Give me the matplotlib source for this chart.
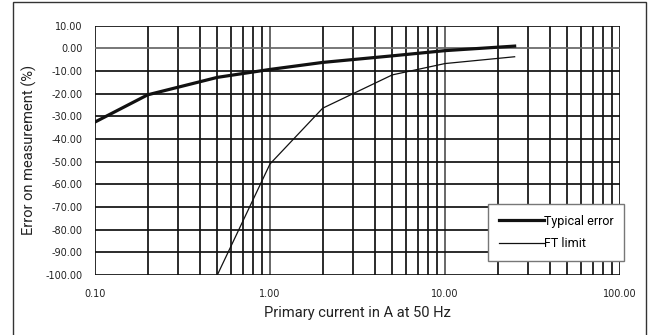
import matplotlib
matplotlib.use('Agg')
import matplotlib.pyplot as plt
from matplotlib.patches import Rectangle
from matplotlib.ticker import FixedLocator, NullLocator, FixedFormatter

# ── Data ──────────────────────────────────────────────────────────────────────
typ_current = [0.1, 0.2, 0.5, 1.0, 2.0, 5.0, 10.0, 25.0]
typ_error = [-32.5, -20.5, -12.8, -9.3, -6.2, -3.3, -1.0, 1.0]

ft_current = [0.5, 1.0, 2.0, 5.0, 10.0, 25.0]
ft_limit = [-100.0, -51.0, -26.4, -11.7, -6.7, -3.7]

x_ticks = [0.1, 1, 10, 100]
x_ticklabels = ['0.10', '1.00', '10.00', '100.00']
y_ticks = list(range(-100, 11, 10))

LABEL_FONT = ['Roboto', 'DejaVu Sans']

fig = plt.figure(figsize=(6.56, 3.35), dpi=100)
fig.patch.set_facecolor('white')
ax = fig.add_axes([95 / 656, 1 - 275 / 335, 525 / 656, 249.3 / 335])

# outer frame round the whole chart
fig.add_artist(Rectangle((13 / 656, -0.05), 633 / 656, 1 - 2 / 335 + 0.05,
                         transform=fig.transFigure, fill=False,
                         edgecolor='#333333', linewidth=1.0))

# grid: every decade subdivision and every 10 %
minor = [m * 10 ** e for e in (-1, 0, 1) for m in range(2, 10)]
for xv in minor + [0.1, 100]:
    ax.axvline(xv, color='#111111', linewidth=1.25, zorder=1)
for xv in (1, 10):
    ax.axvline(xv, color='#555555', linewidth=1.25, zorder=1)
for yv in y_ticks:
    ax.axhline(yv, color='#666666' if yv == 0 else '#111111', linewidth=1.25, zorder=1)

ax.plot(typ_current, typ_error, color='#111111', linewidth=2.3, label='Typical error', zorder=3)
ax.plot(ft_current, ft_limit, color='#111111', linewidth=0.9, label='FT limit', zorder=3)

ax.set_xscale('log')
ax.set_xlim(0.1, 100)
ax.set_ylim(-100, 10)
for s in ax.spines.values():
    s.set_visible(False)

ax.xaxis.set_major_locator(FixedLocator(x_ticks))
ax.xaxis.set_major_formatter(FixedFormatter(x_ticklabels))
ax.xaxis.set_minor_locator(NullLocator())
ax.set_yticks(y_ticks)
ax.set_yticklabels([f'{v:.2f}' for v in y_ticks])
ax.tick_params(axis='both', length=0, labelsize=7, labelcolor='#222222')
ax.tick_params(axis='x', pad=10)
ax.tick_params(axis='y', pad=9)
for t in ax.get_xticklabels() + ax.get_yticklabels():
    t.set_family(['DejaVu Sans'])

ax.set_xlabel('Primary current in A at 50 Hz', fontsize=10.5, family=LABEL_FONT,
              color='#222222', labelpad=5)
ax.set_ylabel('Error on measurement (%)', fontsize=10.5, family=LABEL_FONT,
              color='#222222', labelpad=6)

leg = ax.legend(loc='upper left', bbox_to_anchor=((488 - 95) / 525, (275 - 204) / 249.3),
                borderaxespad=0, frameon=True, fancybox=False, handlelength=3.6,
                handletextpad=0.0, borderpad=0.85, labelspacing=0.75,
                prop={'family': LABEL_FONT, 'size': 9})
leg.get_frame().set_edgecolor('#777777')
leg.get_frame().set_linewidth(1.0)
leg.get_frame().set_alpha(1)
leg.set_zorder(5)

fig.savefig('out.png', dpi=100)
